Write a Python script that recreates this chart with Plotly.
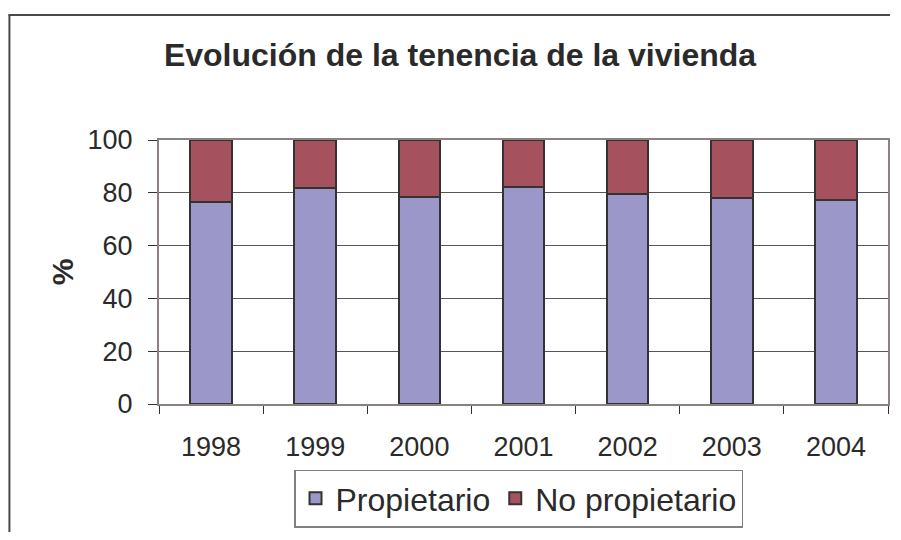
import plotly.graph_objects as go

years = ['1998', '1999', '2000', '2001', '2002', '2003', '2004']
propietario = [76.6, 81.7, 78.3, 82.3, 79.5, 77.9, 77.3]
no_propietario = [round(100 - v, 1) for v in propietario]
y_ticks = [0, 20, 40, 60, 80, 100]

FONT = 'Liberation Sans, Arial, sans-serif'

# the page body has an 8px margin, so everything is placed 8px up/left
W, H = 885, 524
L, T = 151, 132          # plot area left/top in figure px
PW, PH = 731, 264        # plot area size


def px(x):
    return (x - L) / PW


def py(y):
    return (T + PH - y) / PH


fig = go.Figure()
fig.add_trace(go.Bar(x=years, y=propietario, name='Propietario',
                     marker=dict(color='#9C97C9', line=dict(color='#333333', width=2))))
fig.add_trace(go.Bar(x=years, y=no_propietario, name='No propietario',
                     marker=dict(color='#A6525E', line=dict(color='#333333', width=2))))

fig.update_layout(
    width=W, height=H,
    margin=dict(l=L, r=W - L - PW, t=T, b=H - T - PH),
    paper_bgcolor='white', plot_bgcolor='white',
    barmode='stack', bargap=0.6,
    font=dict(family=FONT, color='#2a2a2a'),
    title=dict(text='<b>Evolución de la tenencia de la vivienda</b>',
               x=452 / W, xanchor='center', y=1 - 47 / H, yanchor='middle',
               font=dict(size=32, family=FONT, color='#2a2a2a')),
    legend=dict(orientation='h', x=px(511.5), xanchor='center', y=py(490.5), yanchor='middle',
                bordercolor='#808080', borderwidth=1.5, font=dict(size=32, family=FONT),
                traceorder='normal', itemwidth=30),
    showlegend=True,
)
fig.update_xaxes(type='category', showline=True, linecolor='#8C8080', linewidth=2, mirror=True,
                 ticks='outside', tickson='boundaries', ticklen=8, tickcolor='#333333',
                 tickfont=dict(size=27), ticklabelstandoff=18, showgrid=False)
fig.update_yaxes(range=[0, 100], tickvals=y_ticks, showline=True, linecolor='#8C8080',
                 linewidth=2, mirror=True, ticks='outside', ticklen=9, tickcolor='#333333',
                 tickfont=dict(size=27), ticklabelstandoff=10, showgrid=True,
                 gridcolor='#555555', gridwidth=1, zeroline=False)

fig.add_annotation(text='<b>%</b>', xref='paper', yref='paper', x=px(54), y=0.5,
                   xanchor='center', yanchor='middle',
                   textangle=-90, showarrow=False, font=dict(size=30, family=FONT))

# outer chart border: only the left and top edges are inside the picture
fig.add_shape(type='line', xref='paper', yref='paper', x0=px(1), x1=px(1), y0=py(H), y1=py(7),
              line=dict(color='#4a4a4a', width=2))
fig.add_shape(type='line', xref='paper', yref='paper', x0=px(0), x1=px(W - 1), y0=py(7), y1=py(7),
              line=dict(color='#4a4a4a', width=2))

fig.write_html('out.html')
